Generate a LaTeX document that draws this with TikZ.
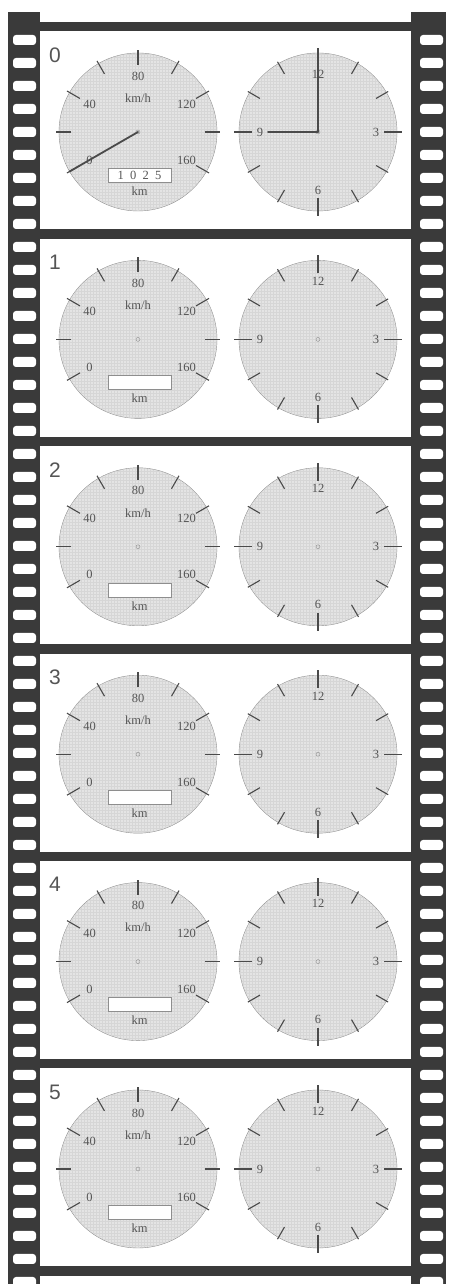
\documentclass[tikz,border=0pt]{standalone}
\usepackage{fontspec}
\setmainfont{Liberation Serif}
\setsansfont{Liberation Sans}
\usepackage{xcolor}
\definecolor{filmDark}{HTML}{3A3A3A}
\definecolor{dialFace}{HTML}{E4E4E4}
\definecolor{dialGrid}{HTML}{D6D6D6}
\definecolor{dialEdge}{HTML}{8E8E8E}
\definecolor{inkGray}{HTML}{4A4A4A}
\definecolor{labelGray}{HTML}{555555}

\tikzset{
  dial/.style={circle, draw=dialEdge, fill=dialFace, minimum size=158pt, inner sep=0pt},
  dialgrid/.style={dialGrid, line width=0.25pt, step=3},
  dialtick/.style={inkGray, line width=1.1pt},
  dialhand/.style={inkGray, line width=1.8pt, line cap=round},
  scalelbl/.style={font=\fontsize{12.5}{12.5}\selectfont, text=labelGray, inner sep=0pt},
  odobox/.style={draw=dialEdge, fill=white, minimum width=63pt, minimum height=14pt, inner sep=0pt},
  framenum/.style={font=\sffamily\fontsize{21}{21}\selectfont, text=labelGray, inner sep=0pt},
  hole/.style={fill=white, rounded corners=3pt}
}

\begin{document}
\begin{tikzpicture}[x=1pt, y=1pt]
  \useasboundingbox (0,0) rectangle (448,1284);
  \fill[white] (0,0) rectangle (448,1284);
  % film strip
  \fill[filmDark] (8,0) rectangle (40,1272);
  \fill[filmDark] (411,0) rectangle (446,1272);
  \foreach \j in {0,...,55} {
    \pgfmathsetmacro\yh{1244-23*\j}
    \fill[hole] (13,\yh-5) rectangle (36,\yh+5);
    \fill[hole] (420,\yh-5) rectangle (443,\yh+5);
  }
  \foreach \k in {0,...,6} {
    \pgfmathsetmacro\yb{1262-207.4*\k}
    \fill[filmDark] (40,\yb) rectangle (411,\yb-9.5);
  }
  % frames
  \foreach \k in {0,...,5} {
    \pgfmathsetmacro\yc{1152-207.4*\k}
    \pgfmathsetmacro\yn{1229-207.4*\k}
    \node[framenum] (num\k) at (55,\yn) {\k};
    \node[dial] (spd\k) at (138,\yc) {};
    \node[dial] (clk\k) at (318,\yc) {};
    \begin{scope}
      \clip (spd\k.center) circle (78.5) (clk\k.center) circle (78.5);
      \draw[dialgrid] (55,\yc-81) grid (400,\yc+81);
    \end{scope}
    % speedometer
    \foreach \a in {-30,0,...,210}
      \draw[dialtick] (spd\k.center) ++(\a:67) -- ++(\a:15);
    \foreach \a/\v in {210/0,150/40,90/80,30/120,-30/160}
      \node[scalelbl] (spd\k-\v) at ([shift={(\a:56)}]spd\k.center) {\v};
    \node[scalelbl] (kmh\k) at (138,\yc+34) {km/h};
    \node[odobox] (odo\k) at (139.5,\yc-43) {};
    \node[scalelbl] (km\k) at (139.5,\yc-59) {km};
    \draw[dialEdge] (spd\k.center) circle (2);
    % clock
    \foreach \a in {30,60,120,150,210,240,300,330}
      \draw[dialtick] (clk\k.center) ++(\a:67) -- ++(\a:14);
    \foreach \a in {0,90,180,270}
      \draw[dialtick] (clk\k.center) ++(\a:66) -- ++(\a:18);
    \foreach \a/\v in {90/12,0/3,270/6,180/9}
      \node[scalelbl] (clk\k-\v) at ([shift={(\a:58)}]clk\k.center) {\v};
    \draw[dialEdge] (clk\k.center) circle (2);
  }
  % start values
  \node[scalelbl] (odoval) at (odo0) {1\,\,\,0\,\,\,2\,\,\,5};
  \draw[dialhand] (spd0.center) -- ++(210:79);
  \draw[dialhand] (clk0.center) -- ++(90:79);
  \draw[dialhand] (clk0.center) -- ++(180:50);
\end{tikzpicture}
\end{document}
